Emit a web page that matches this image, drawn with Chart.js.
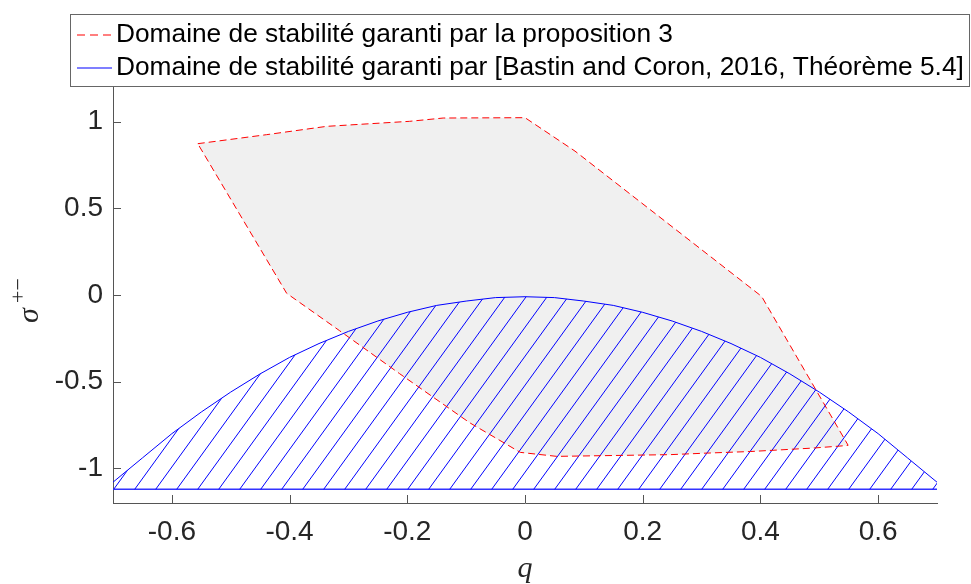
<!DOCTYPE html>
<html><head><meta charset="utf-8">
<script src="https://cdn.jsdelivr.net/npm/chart.js@4.4.0/dist/chart.umd.min.js"></script>
<style>html,body{margin:0;padding:0;background:#fff;}canvas{display:block;}</style>
</head><body>
<canvas id="c" width="971" height="584"></canvas>
<script>
// ---- data ----
const seriesLabels = [
  'Domaine de stabilité garanti par la proposition 3',
  'Domaine de stabilité garanti par [Bastin and Coron, 2016, Théorème 5.4]'
];
// polygon of proposition 3 (closed)
const propX = [-0.556, -0.439, -0.337, -0.196, -0.139, 0.0, 0.085, 0.402, 0.549, 0.541, 0.49, 0.383, 0.31, 0.247, 0.054, -0.008, -0.094, -0.213, -0.315, -0.405, -0.556];
const propY = [0.873, 0.925, 0.973, 1.002, 1.021, 1.023, 0.83, -0.008, -0.867, -0.870, -0.883, -0.903, -0.912, -0.921, -0.931, -0.908, -0.737, -0.454, -0.206, 0.01, 0.873];
// upper boundary of the Bastin & Coron domain
const bastinX = [-0.7, -0.65, -0.6, -0.55, -0.5, -0.45, -0.4, -0.35, -0.3, -0.25, -0.2, -0.15, -0.1, -0.05, 0, 0.05, 0.1, 0.15, 0.2, 0.25, 0.3, 0.35, 0.4, 0.45, 0.5, 0.55, 0.6, 0.65, 0.7];
const bastinY = [-1.08, -0.94, -0.80, -0.675, -0.56, -0.455, -0.36, -0.28, -0.21, -0.15, -0.10, -0.06, -0.035, -0.015, -0.01, -0.015, -0.035, -0.06, -0.10, -0.15, -0.21, -0.28, -0.36, -0.455, -0.56, -0.675, -0.80, -0.94, -1.08];
const floorX = [-0.7, 0.7];
const floorY = [-1.12, -1.12];
const xTicks = [-0.6, -0.4, -0.2, 0, 0.2, 0.4, 0.6];
const yTicks = [-1, -0.5, 0, 0.5, 1];
const xLabel = 'q';
const yLabel = 'σ';
const yLabelSup = '+−';

// ---- styles ----
const axisColor = '#555555';
const textColor = '#262626';
const redColor = '#ff0000';
const blueColor = '#0000ff';
const redDash = [8, 5];
const sans = '"Liberation Sans", Arial, sans-serif';
const serif = '"Liberation Serif", "Times New Roman", serif';

function pts(xs, ys){ return xs.map((x,i)=>({x:x, y:ys[i]})); }

function makeHatch(ctx){
  const w = 21, h = 29;
  const c = document.createElement('canvas'); c.width = w; c.height = h;
  const g = c.getContext('2d');
  g.strokeStyle = blueColor; g.lineWidth = 1;
  for (const n of [0,1,2]) {
    g.beginPath(); g.moveTo(n*w + w, -h); g.lineTo(n*w - 2*w, 2*h); g.stroke();
  }
  const p = ctx.createPattern(c, 'repeat');
  if (p.setTransform) p.setTransform(new DOMMatrix([1,0,0,1,6,0]));
  return p;
}

const canvas = document.getElementById('c');
const ctx0 = canvas.getContext('2d');
const hatch = makeHatch(ctx0);

const innerTicks = {
  id: 'innerTicks',
  afterDatasetsDraw(chart){
    const {ctx, chartArea: a, scales: {x, y}} = chart;
    ctx.save();
    ctx.strokeStyle = axisColor; ctx.lineWidth = 1;
    ctx.beginPath();
    x.ticks.forEach(t => { const px = Math.round(x.getPixelForValue(t.value)) + 0.5; ctx.moveTo(px, a.bottom); ctx.lineTo(px, a.bottom - 8); });
    y.ticks.forEach(t => { const py = Math.round(y.getPixelForValue(t.value)) + 0.5; ctx.moveTo(a.left, py); ctx.lineTo(a.left + 8, py); });
    ctx.stroke();
    ctx.restore();
  }
};

const yTitle = {
  id: 'yTitle',
  afterDraw(chart){
    const ctx = chart.ctx;
    const a = chart.chartArea;
    const cy = (a.top + a.bottom) / 2;
    ctx.save();
    ctx.translate(38, cy + 28);
    ctx.rotate(-Math.PI/2);
    ctx.fillStyle = textColor;
    ctx.textBaseline = 'alphabetic';
    ctx.textAlign = 'left';
    ctx.font = 'italic 30px ' + serif;
    ctx.fillText(yLabel, 0, 0);
    ctx.font = '22px ' + serif;
    ctx.fillText(yLabelSup, 20, -13);
    ctx.restore();
  }
};

const legendStyles = [
  { color: redColor, dash: redDash },
  { color: blueColor, dash: [] }
];

const boxLegend = {
  id: 'boxLegend',
  afterDraw(chart){
    const ctx = chart.ctx;
    ctx.save();
    ctx.fillStyle = '#ffffff';
    ctx.fillRect(70.5, 14.5, 899, 72);
    ctx.strokeStyle = '#666666'; ctx.lineWidth = 1;
    ctx.strokeRect(70.5, 14.5, 899, 72);
    seriesLabels.forEach((label, r) => {
      const st = legendStyles[r];
      const yy = 35 + r * 33;
      ctx.strokeStyle = st.color;
      ctx.lineWidth = 1.2;
      ctx.setLineDash(st.dash);
      ctx.beginPath(); ctx.moveTo(77, yy); ctx.lineTo(112, yy); ctx.stroke();
      ctx.setLineDash([]);
      ctx.fillStyle = '#000000';
      ctx.font = '26.3px ' + sans;
      ctx.textBaseline = 'middle';
      ctx.textAlign = 'left';
      ctx.fillText(label, 116, yy);
    });
    ctx.restore();
  }
};

Chart.defaults.font.family = sans;

new Chart(canvas, {
  type: 'scatter',
  data: {
    datasets: [
      { label: seriesLabels[0], data: pts(propX, propY), showLine: true, borderColor: redColor, borderWidth: 1, borderDash: [7, 4], pointRadius: 0, fill: false, tension: 0 },
      { label: seriesLabels[1], data: pts(bastinX, bastinY), showLine: true, borderColor: blueColor, borderWidth: 1, pointRadius: 0, fill: { value: floorY[0] }, backgroundColor: hatch, tension: 0 },
      { label: 'floor', data: pts(floorX, floorY), showLine: true, borderColor: '#3333ff', borderWidth: 1.5, pointRadius: 0, fill: false },
      { label: 'fill', data: pts(propX, propY), showLine: true, borderWidth: 0, borderColor: 'rgba(0,0,0,0)', pointRadius: 0, fill: 'shape', backgroundColor: '#f0f0f0' }
    ]
  },
  options: {
    responsive: false,
    devicePixelRatio: 1,
    animation: false,
    events: [],
    layout: { padding: { top: 87, right: 34, bottom: 0, left: 0 } },
    plugins: { legend: { display: false }, tooltip: { enabled: false } },
    scales: {
      x: {
        type: 'linear', min: -0.7, max: 0.7,
        afterBuildTicks: s => { s.ticks = xTicks.map(v => ({ value: v })); },
        afterFit: s => { s.height = 81; },
        grid: { display: true, drawOnChartArea: false, drawTicks: false },
        border: { display: true, color: axisColor, width: 1 },
        ticks: { color: textColor, font: { size: 28 }, padding: 12, maxRotation: 0, autoSkip: false, callback: v => String(v) },
        title: { display: true, text: xLabel, color: textColor, font: { family: serif, size: 30, style: 'italic', lineHeight: 1 }, padding: { top: 0, bottom: 0 } }
      },
      y: {
        type: 'linear', min: -1.2, max: 1.2,
        afterBuildTicks: s => { s.ticks = yTicks.map(v => ({ value: v })); },
        afterFit: s => { s.width = 113; },
        grid: { display: true, drawOnChartArea: false, drawTicks: false },
        border: { display: true, color: axisColor, width: 1 },
        ticks: { color: textColor, font: { size: 28 }, padding: 10, autoSkip: false, callback: v => String(v) }
      }
    }
  },
  plugins: [innerTicks, yTitle, boxLegend]
});
</script>
</body></html>
